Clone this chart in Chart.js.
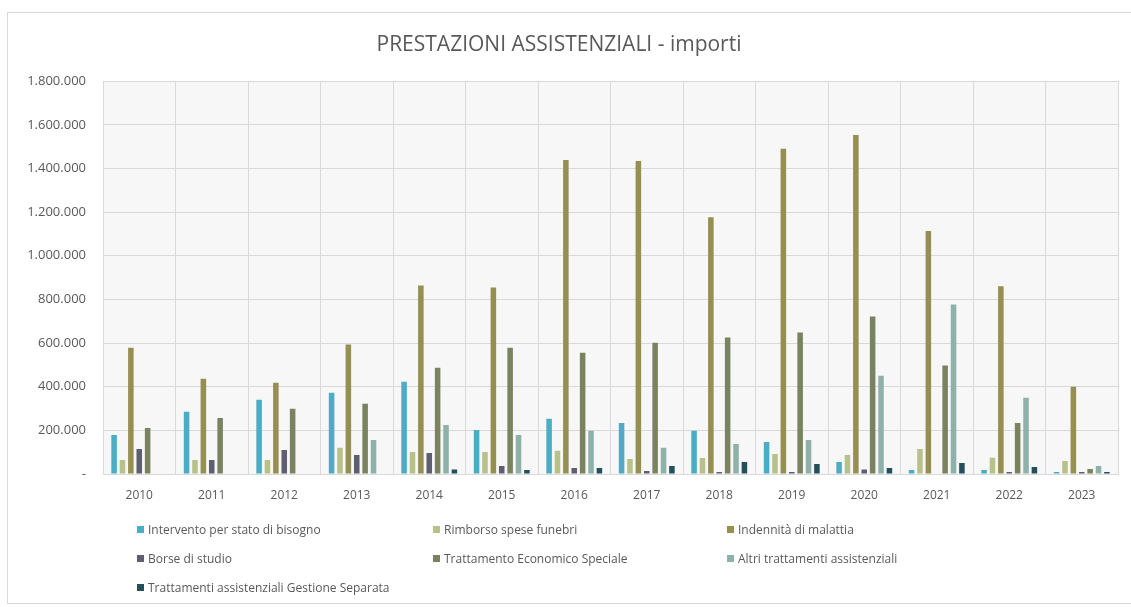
<!DOCTYPE html>
<html lang="it">
<head>
<meta charset="utf-8">
<title>Prestazioni assistenziali - importi</title>
<script src="https://cdn.jsdelivr.net/npm/chart.js@4.4.1/dist/chart.umd.min.js"></script>
<style>
  html, body { margin: 0; padding: 0; background: #fff; }
  body { width: 1131px; height: 607px; position: relative; overflow: hidden; font-family: "Open Sans", sans-serif; }
  #frame { position: absolute; left: 7px; top: 12px; width: 1140px; height: 592px; border: 1px solid #d9d9d9; box-sizing: border-box; }
  #wrap { position: absolute; left: 0; top: 0; width: 1131px; height: 607px; }
  #legend { position: absolute; left: 137px; top: 521px; width: 900px; }
  .item { position: absolute; font-size: 12px; color: #595959; white-space: nowrap; line-height: 18px; }
  .item i { display: inline-block; width: 7px; height: 7px; margin-right: 4px; vertical-align: 1px; }
</style>
</head>
<body>
<div id="frame"></div>
<div id="wrap"><canvas id="chart" width="1131" height="607"></canvas></div>
<div id="legend"></div>
<script>
// anni e importi per tipo di prestazione (euro)
const years = ['2010', '2011', '2012', '2013', '2014', '2015', '2016', '2017', '2018', '2019', '2020', '2021', '2022', '2023'];
const intervento = [179000, 285000, 340000, 372000, 423000, 202000, 253000, 234000, 198000, 147000, 55000, 18000, 18000, 9000];
const rimborso = [64000, 64000, 64000, 120000, 101000, 101000, 106000, 69000, 73000, 92000, 87000, 115000, 74000, 60000];
const indennita = [579000, 437000, 418000, 593000, 864000, 855000, 1439000, 1434000, 1177000, 1490000, 1554000, 1113000, 860000, 400000];
const borse = [115000, 64000, 110000, 87000, 96000, 37000, 28000, 14000, 9000, 9000, 21000, 0, 9000, 9000];
const tes = [211000, 257000, 299000, 322000, 487000, 579000, 556000, 602000, 625000, 648000, 722000, 497000, 234000, 23000];
const altri = [0, 0, 0, 156000, 225000, 179000, 198000, 120000, 138000, 156000, 450000, 777000, 349000, 37000];
const gestSep = [0, 0, 0, 0, 21000, 18000, 28000, 37000, 55000, 46000, 28000, 50000, 32000, 9000];

const yTicks = [0, 200000, 400000, 600000, 800000, 1000000, 1200000, 1400000, 1600000, 1800000];

const series = [
  { label: 'Intervento per stato di bisogno', data: intervento, color: '#4BACC6' },
  { label: 'Rimborso spese funebri', data: rimborso, color: '#B8C18A' },
  { label: 'Indennità di malattia', data: indennita, color: '#968F52' },
  { label: 'Borse di studio', data: borse, color: '#5E6072' },
  { label: 'Trattamento Economico Speciale', data: tes, color: '#7A8360' },
  { label: 'Altri trattamenti assistenziali', data: altri, color: '#8EB2AA' },
  { label: 'Trattamenti assistenziali Gestione Separata', data: gestSep, color: '#23505C' }
];

// formato contabile: 1.800.000, zero come trattino
function fmt(v) {
  if (v === 0) return '-';
  return String(v).replace(/\B(?=(\d{3})+(?!\d))/g, '.');
}

const grey = '#595959';
const gridCol = '#d9d9d9';

// sfondo grigio chiaro dell'area del grafico
const plotBg = {
  id: 'plotBg',
  beforeDraw(chart) {
    const { ctx, chartArea: a } = chart;
    ctx.save();
    ctx.fillStyle = '#f7f7f7';
    ctx.fillRect(a.left, a.top, a.right - a.left, a.bottom - a.top);
    ctx.restore();
  }
};

new Chart(document.getElementById('chart'), {
  type: 'bar',
  data: {
    labels: years,
    datasets: series.map(s => ({
      label: s.label,
      data: s.data,
      backgroundColor: s.color,
      borderWidth: 0,
      categoryPercentage: 0.81,
      barPercentage: 0.66
    }))
  },
  options: {
    responsive: false,
    animation: false,
    layout: { padding: { left: 0, right: 13, top: 0, bottom: 0 } },
    plugins: {
      legend: { display: false },
      tooltip: { enabled: false },
      title: {
        display: true,
        text: 'PRESTAZIONI ASSISTENZIALI - importi',
        color: grey,
        font: { family: 'Open Sans', size: 21, weight: 'normal' },
        padding: { top: 32, bottom: 24 }
      }
    },
    scales: {
      x: {
        grid: { color: gridCol, drawTicks: false, offset: true },
        border: { color: gridCol },
        ticks: { color: grey, font: { family: 'Open Sans', size: 12 }, padding: 14, maxRotation: 0 },
        afterFit(scale) { scale.height = 133; }
      },
      y: {
        min: 0,
        max: 1800000,
        grid: { color: gridCol, drawTicks: false },
        border: { display: false },
        afterBuildTicks(scale) { scale.ticks = yTicks.map(v => ({ value: v })); },
        ticks: {
          color: grey,
          font: { family: 'Open Sans', size: 13 },
          padding: 17,
          callback: v => fmt(v)
        },
        afterFit(scale) { scale.width = 103; }
      }
    }
  },
  plugins: [plotBg]
});

// legenda su tre colonne
const legend = document.getElementById('legend');
const colX = [0, 296, 590];
series.forEach((s, i) => {
  const el = document.createElement('div');
  el.className = 'item';
  el.style.left = colX[i % 3] + 'px';
  el.style.top = Math.floor(i / 3) * 29 + 'px';
  el.innerHTML = '<i style="background:' + s.color + '"></i>' + s.label;
  legend.appendChild(el);
});
</script>
</body>
</html>
